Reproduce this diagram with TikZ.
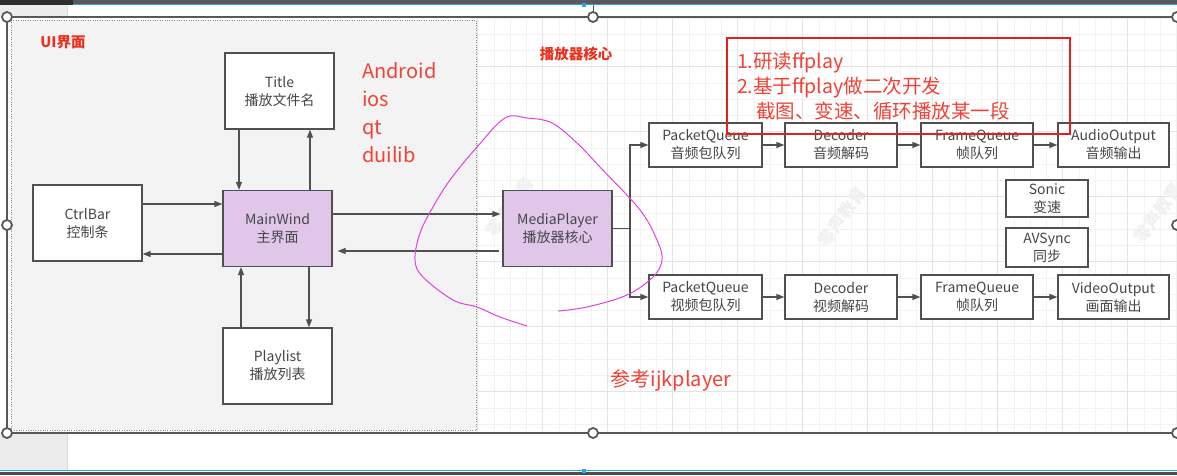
\documentclass[tikz,border=0pt]{standalone}
\usepackage{fontspec}
\setmainfont{Noto Sans CJK SC}
\usetikzlibrary{arrows.meta}

\definecolor{boxline}{RGB}{80,80,80}
\definecolor{boxtext}{RGB}{70,70,70}
\definecolor{corefill}{RGB}{224,199,234}
\definecolor{notered}{RGB}{240,66,54}
\definecolor{labelred}{RGB}{236,48,28}
\definecolor{framered}{RGB}{232,30,28}
\definecolor{panelgray}{RGB}{243,243,243}
\definecolor{gridminor}{RGB}{242,242,242}
\definecolor{gridmajor}{RGB}{228,228,228}
\definecolor{pen}{RGB}{226,64,226}
\definecolor{handlegray}{RGB}{88,88,88}
\definecolor{selblue}{RGB}{45,165,230}
\definecolor{stripgray}{RGB}{236,236,236}

\begin{document}
\begin{tikzpicture}[x=1pt, y=-1pt,
    box/.style={rectangle, draw=boxline, line width=1.2pt, fill=white, inner sep=0pt,
        minimum width=109pt, minimum height=76pt, align=center, text=boxtext,
        font=\fontsize{14}{18}\selectfont},
    core/.style={box, fill=corefill},
    stage/.style={box, minimum height=44pt, minimum width=112pt},
    helper/.style={box, minimum width=82pt, minimum height=38pt},
    arr/.style={draw=boxline, line width=1.2pt, -{Triangle[length=8pt,width=6pt]}},
    wire/.style={draw=boxline, line width=1.2pt},
    redlabel/.style={text=labelred, font=\fontsize{14.5}{16}\selectfont\bfseries},
    platform/.style={text=notered, align=left, inner sep=0pt, font=\fontsize{20}{28}\selectfont},
    notebox/.style={draw=framered, line width=2pt, text=notered, align=left,
        text width=323pt, inner xsep=10pt, minimum height=96pt,
        font=\fontsize{19.5}{25}\selectfont},
    watermark/.style={text=black!6, font=\fontsize{17}{17}\selectfont\bfseries},
    handle/.style={draw=handlegray, line width=1.8pt, fill=white}
]
\useasboundingbox (0,0) rectangle (1177,475);

% window chrome round the canvas
\fill[black!82] (0,0) rectangle (73,4.5);
\fill[black!65] (73,0) rectangle (1177,4.5);
\draw[selblue, line width=0.8pt] (73,4.8) -- (1177,4.8);
\fill[stripgray] (0,5) rectangle (67,17);
\fill[stripgray] (0,433) rectangle (67,470);
\draw[black!15] (67,5) -- (67,17);
\draw[black!15] (67,433) -- (67,470);
\draw[selblue, line width=1.5pt] (0,470.5) -- (1177,470.5);
\fill[black!70] (0,471.5) rectangle (1177,475);

% grid on the right part of the canvas
\begin{scope}
\clip (477,18) rectangle (1177,432);
\foreach \gx in {0,...,43}
    \draw[gridminor, line width=0.8pt] ({477.7+16.25*\gx},18) -- ++(0,414);
\foreach \gy in {1,...,26}
    \draw[gridminor, line width=0.8pt] (477,{1.7+16.25*\gy}) -- ++(700,0);
\foreach \gx in {0,...,10}
    \draw[gridmajor, line width=0.8pt] ({477.7+65*\gx},18) -- ++(0,414);
\foreach \gy in {1,...,6}
    \draw[gridmajor, line width=0.8pt] (477,{1.7+65*\gy}) -- ++(700,0);
\end{scope}

% watermarks
\node[watermark, rotate=55] (wm1) at (510,207) {零声教育};
\node[watermark, rotate=55] (wm2) at (842,217) {零声教育};
\node[watermark, rotate=55] (wm3) at (1158,213) {零声教育};

% UI group panel
\draw[dotted, draw=black!45, fill=panelgray] (11,20) rectangle (476,430);
\node[redlabel] (uilabel) at (63,42) {UI界面};
\node[redlabel] (corelabel) at (576,54) {播放器核心};

% UI side
\node[box] (title) at (279.5,91) {Title\\播放文件名};
\node[box] (ctrlbar) at (87.5,223) {CtrlBar\\控制条};
\node[core] (mainwind) at (277.5,228.5) {MainWind\\主界面};
\node[box] (playlist) at (277.5,366) {Playlist\\播放列表};
\node[platform, anchor=west] (platforms) at (362,113) {Android\\ios\\qt\\duilib};

% player core
\node[core] (mediaplayer) at (557.5,228.5) {MediaPlayer\\播放器核心};

% audio pipeline
\node[stage, minimum width=113pt] (apq) at (705.5,145) {PacketQueue\\音频包队列};
\node[stage] (adec) at (841,145) {Decoder\\音频解码};
\node[stage] (afq) at (977,145) {FrameQueue\\帧队列};
\node[stage, minimum width=111pt] (aout) at (1113.5,145) {AudioOutput\\音频输出};

% video pipeline
\node[stage, minimum width=113pt] (vpq) at (705.5,297) {PacketQueue\\视频包队列};
\node[stage] (vdec) at (841,297) {Decoder\\视频解码};
\node[stage] (vfq) at (977,297) {FrameQueue\\帧队列};
\node[stage, minimum width=111pt] (vout) at (1113.5,297) {VideoOutput\\画面输出};

\node[helper, minimum height=37pt] (sonic) at (1047,198.5) {Sonic\\变速};
\node[helper, minimum height=39pt] (avsync) at (1047,247.5) {AVSync\\同步};

% UI connectors
\draw[arr] ([xshift=-40.5pt]title.south) -- ([xshift=-38.5pt]mainwind.north);
\draw[arr] ([xshift=32.5pt]mainwind.north) -- ([xshift=30.5pt]title.south);
\draw[arr] ([xshift=-36.5pt]playlist.north) -- ([xshift=-36.5pt]mainwind.south);
\draw[arr] ([xshift=31.5pt]mainwind.south) -- ([xshift=31.5pt]playlist.north);
\draw[arr] ([yshift=19pt]ctrlbar.east) -- ([yshift=24.5pt]mainwind.west);
\draw[arr] ([yshift=-25.5pt]mainwind.west) -- ([yshift=-31pt]ctrlbar.east);

% UI <-> core
\draw[arr, shorten >=2pt] ([yshift=14.5pt]mainwind.east) -- ([yshift=14.5pt]mediaplayer.west);
\draw[arr, shorten <=3pt, shorten >=5pt] ([yshift=-22.5pt]mediaplayer.west) -- ([yshift=-22.5pt]mainwind.east);

% core -> pipelines
\coordinate (split) at (630,228.5);
\draw[wire] (mediaplayer.east) -- (split);
\draw[arr] (split) |- (apq);
\draw[arr] (split) |- (vpq);
\foreach \a/\b in {apq/adec, adec/afq, afq/aout, vpq/vdec, vdec/vfq, vfq/vout}
    \draw[arr] (\a) -- (\b);

% notes
\node[notebox, anchor=north west] (plan) at (726,37)
    {1.研读ffplay\\2.基于ffplay做二次开发\\\hspace*{19pt}截图、变速、循环播放某一段};
\node[text=notered, font=\fontsize{20}{22}\selectfont] (ijk) at (671,380) {参考ijkplayer};

% freehand mark round the core
\draw[pen, line width=1pt] plot[smooth, tension=0.6] coordinates {
    (558,311) (587,307) (627,295) (653,277) (662,260) (657,240) (640,210)
    (600,167) (577,143) (552,123) (527,118) (505,118) (477,147) (450,180)
    (433,207) (420,233) (415,260) (423,277) (453,300) (477,307) (500,317) (527,326)};

% selection frame and handles
\draw[handlegray, line width=1.2pt] (7,433) -- (7,17) -- (1177,17);
\draw[handlegray, line width=1.2pt] (7,433) -- (1177,433);
\draw[handlegray, line width=1pt] (593,5) -- (593,12);
\fill[selblue] (582,3) rectangle (586,7);
\fill[selblue] (582,469) rectangle (586,473);
\foreach \hx/\hy in {7/17, 593/17, 1177/17, 7/225, 1177/225, 7/433, 593/433, 1177/433}
    \draw[handle] (\hx,\hy) circle (5pt);

\end{tikzpicture}
\end{document}
